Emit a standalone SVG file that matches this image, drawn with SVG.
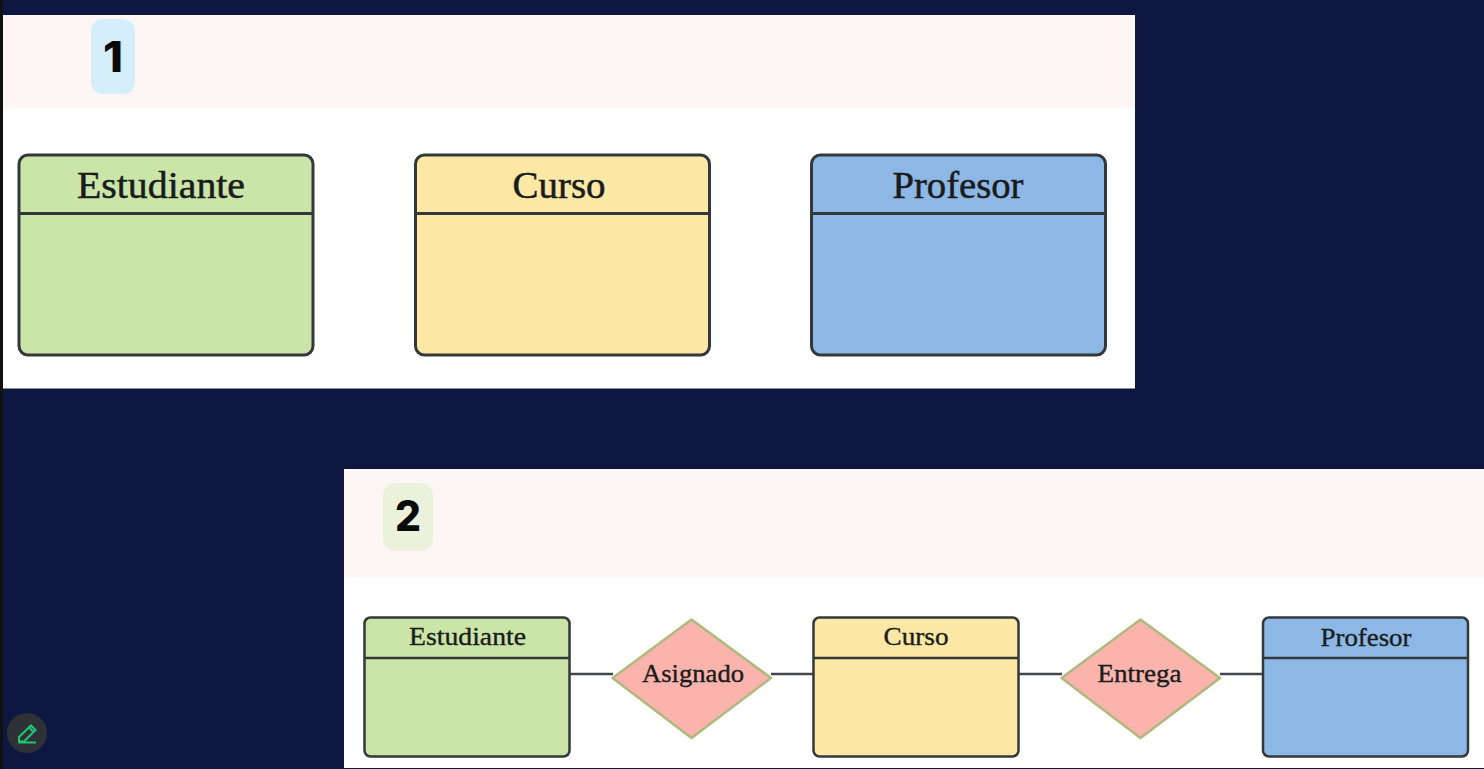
<svg xmlns="http://www.w3.org/2000/svg" width="1484" height="769" viewBox="0 0 1484 769">
<style>
.panel{fill:#fff}
.band{fill:#fdf6f4}
.ent{stroke:#33383a;stroke-width:3}
.ent2{stroke:#33383a;stroke-width:2.5}
.g{fill:#cbe5a9}.y{fill:#fde8a5}.b{fill:#8db8e6}
.t{font-family:"Liberation Serif",serif;text-anchor:middle;fill:#1a1c1c;stroke:#1a1c1c}
.t1{font-size:37px;stroke-width:.5}
.t2{font-size:25px;stroke-width:.35}
.n{font-family:Inter,"Liberation Sans",sans-serif;font-weight:800;text-anchor:middle;fill:#0a0a0a;font-size:42px}
.rel{fill:#fbb3ad;stroke:#afb97c;stroke-width:2.5;stroke-linejoin:round}
.conn{stroke:#44484c;stroke-width:2.5;fill:none}
</style>
<rect width="1484" height="769" fill="#0e1740"/>
<rect width="3" height="769" fill="#111111"/>
<g id="panel-1">
<rect class="panel" x="3" y="15" width="1132" height="373.500"/>
<rect class="band" x="3" y="15" width="1132" height="93"/>
<rect x="91" y="19" width="44" height="75" rx="12" fill="#d4eefa"/>
<text class="n" x="113" y="71.500" textLength="20" lengthAdjust="spacingAndGlyphs">1</text>
</g>
<g id="panel-2">
<rect class="panel" x="344" y="469" width="1140" height="299"/>
<rect class="band" x="344" y="469" width="1140" height="108"/>
<rect x="383" y="483" width="50" height="68" rx="12" fill="#eaf2dc"/>
<text class="n" x="408" y="531" textLength="26" lengthAdjust="spacingAndGlyphs">2</text>
</g>
<g id="connectors">
<path class="conn" d="M570 674H613M771 674H814M1019 674H1062M1220 674H1263"/>
</g>
<g id="estudiante-1">
<rect class="ent g" x="19" y="155" width="294" height="200" rx="9"/>
<path class="ent" d="M19 213.500H313"/>
<text class="t t1" x="161" y="198" textLength="168" lengthAdjust="spacingAndGlyphs">Estudiante</text>
</g>
<g id="curso-1">
<rect class="ent y" x="415.500" y="155" width="294" height="200" rx="9"/>
<path class="ent" d="M415.500 213.500H709.500"/>
<text class="t t1" x="559" y="198" textLength="93" lengthAdjust="spacingAndGlyphs">Curso</text>
</g>
<g id="profesor-1">
<rect class="ent b" x="811.500" y="155" width="294" height="200" rx="9"/>
<path class="ent" d="M811.500 213.500H1105.500"/>
<text class="t t1" x="958" y="198" textLength="131" lengthAdjust="spacingAndGlyphs">Profesor</text>
</g>
<g id="estudiante-2">
<rect class="ent2 g" x="364.500" y="617.500" width="205" height="139" rx="6"/>
<path class="ent2" d="M364.500 658H569.500"/>
<text class="t t2" x="467.500" y="645" textLength="117" lengthAdjust="spacingAndGlyphs">Estudiante</text>
</g>
<g id="asignado">
<path class="rel" d="M691.500 619.500L771 678L691.500 738L612.500 678Z"/>
<text class="t t2" x="693" y="682" textLength="102" lengthAdjust="spacingAndGlyphs">Asignado</text>
</g>
<g id="curso-2">
<rect class="ent2 y" x="813.500" y="617.500" width="205" height="139" rx="6"/>
<path class="ent2" d="M813.500 658H1018.500"/>
<text class="t t2" x="916" y="645" textLength="65" lengthAdjust="spacingAndGlyphs">Curso</text>
</g>
<g id="entrega">
<path class="rel" d="M1140.500 619.500L1220 678L1140.500 738L1061.500 678Z"/>
<text class="t t2" x="1139.500" y="682" textLength="84" lengthAdjust="spacingAndGlyphs">Entrega</text>
</g>
<g id="profesor-2">
<rect class="ent2 b" x="1263" y="617.500" width="205" height="139" rx="6"/>
<path class="ent2" d="M1263 658H1468"/>
<text class="t t2" x="1366" y="646" textLength="91" lengthAdjust="spacingAndGlyphs">Profesor</text>
</g>
<g id="edit-button">
<circle cx="27" cy="733" r="20" fill="#2e3136"/>
<path d="M19 737L31 725.500L35.500 730L24 741.500H19Z M29 727.500L33.500 732" fill="none" stroke="#1fc777" stroke-width="2"/>
<path d="M18.500 742.500H36" stroke="#1fc777" stroke-width="2"/>
</g>
</svg>
